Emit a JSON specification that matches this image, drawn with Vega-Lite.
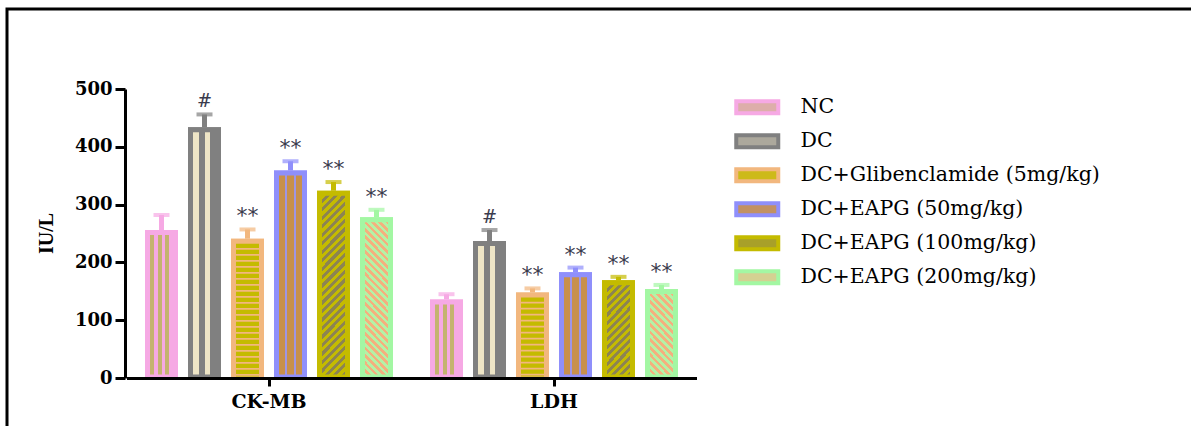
{
  "$schema": "https://vega.github.io/schema/vega-lite/v6.json",
  "width": 1184,
  "height": 417,
  "autosize": {"type": "none"},
  "padding": {"left": 7, "top": 9, "right": 0, "bottom": 0},
  "background": "white",
  "view": {"stroke": "black", "strokeWidth": 3, "strokeDash": [1184, 1601, 417, 0], "strokeDashOffset": 0, "strokeCap": "square"},
  "config": {
    "style": {"cell": {"strokeDash": [1184, 1601, 417, 0], "strokeDashOffset": 0}}
  },
  "data": {
    "values": [
      {"test": "CK-MB", "group": "NC", "mean": 256, "upper": 282, "sig": ""},
      {"test": "CK-MB", "group": "DC", "mean": 434, "upper": 456, "sig": "#"},
      {"test": "CK-MB", "group": "DC+Glibenclamide (5mg/kg)", "mean": 241, "upper": 257, "sig": "**"},
      {"test": "CK-MB", "group": "DC+EAPG (50mg/kg)", "mean": 359, "upper": 375, "sig": "**"},
      {"test": "CK-MB", "group": "DC+EAPG (100mg/kg)", "mean": 324, "upper": 339, "sig": "**"},
      {"test": "CK-MB", "group": "DC+EAPG (200mg/kg)", "mean": 278, "upper": 291, "sig": "**"},
      {"test": "LDH", "group": "NC", "mean": 136, "upper": 145, "sig": ""},
      {"test": "LDH", "group": "DC", "mean": 237, "upper": 256, "sig": "#"},
      {"test": "LDH", "group": "DC+Glibenclamide (5mg/kg)", "mean": 148, "upper": 155, "sig": "**"},
      {"test": "LDH", "group": "DC+EAPG (50mg/kg)", "mean": 183, "upper": 191, "sig": "**"},
      {"test": "LDH", "group": "DC+EAPG (100mg/kg)", "mean": 169, "upper": 175, "sig": "**"},
      {"test": "LDH", "group": "DC+EAPG (200mg/kg)", "mean": 154, "upper": 161, "sig": "**"}
    ]
  },
  "encoding": {
    "x": {
      "field": "test", "type": "nominal", "sort": ["CK-MB", "LDH"],
      "scale": {"range": [119.5, 689.5], "paddingInner": 0, "paddingOuter": 0},
      "axis": {
        "title": null, "orient": "bottom", "offset": -48, "zindex": 1,
        "domainColor": "black", "domainWidth": 3,
        "tickColor": "black", "tickWidth": 3, "tickSize": 8,
        "labelAngle": 0, "labelFont": "DejaVu Serif", "labelFontWeight": "bold", "labelFontSize": 19,
        "labelColor": "black", "labelPadding": 6
      }
    },
    "xOffset": {
      "field": "group", "type": "nominal",
      "sort": ["NC", "DC", "DC+Glibenclamide (5mg/kg)", "DC+EAPG (50mg/kg)", "DC+EAPG (100mg/kg)", "DC+EAPG (200mg/kg)"],
      "scale": {"paddingInner": 0.3488, "paddingOuter": 0.4884}
    },
    "y": {
      "field": "mean", "type": "quantitative",
      "scale": {"domain": [0, 500], "range": [369, 80], "nice": false},
      "axis": {
        "title": "IU/L", "orient": "left", "offset": -118, "zindex": 1, "grid": false,
        "values": [0, 100, 200, 300, 400, 500],
        "domainColor": "black", "domainWidth": 3,
        "tickColor": "black", "tickWidth": 3, "tickSize": 10,
        "labelFont": "DejaVu Serif", "labelFontWeight": "bold", "labelFontSize": 18,
        "labelColor": "black", "labelPadding": 3,
        "titleFont": "Liberation Serif", "titleFontWeight": "bold", "titleFontSize": 20, "titleColor": "black",
        "titleX": -79, "titleY": 224, "titleAngle": -90, "titleAlign": "center", "titleBaseline": "middle"
      }
    }
  },
  "layer": [
    {
      "mark": {"type": "rule", "strokeWidth": 5},
      "encoding": {
        "y2": {"field": "upper"},
        "color": {
          "condition": [
            {"test": "datum.group === 'NC'", "value": "#f6a9e4"},
            {"test": "datum.group === 'DC'", "value": "#808080"},
            {"test": "datum.group === 'DC+Glibenclamide (5mg/kg)'", "value": "#f2b77e"},
            {"test": "datum.group === 'DC+EAPG (50mg/kg)'", "value": "#8f8ffb"},
            {"test": "datum.group === 'DC+EAPG (100mg/kg)'", "value": "#c4bb00"}
          ],
          "value": "#a3f7a3"
        }
      }
    },
    {
      "mark": {"type": "tick", "thickness": 4, "size": 16},
      "encoding": {
        "y": {
          "field": "upper", "type": "quantitative",
          "scale": {"domain": [0, 500], "range": [369, 80], "nice": false},
          "axis": {
            "title": "IU/L", "orient": "left", "offset": -118, "zindex": 1, "grid": false,
            "values": [0, 100, 200, 300, 400, 500],
            "domainColor": "black", "domainWidth": 3,
            "tickColor": "black", "tickWidth": 3, "tickSize": 10,
            "labelFont": "DejaVu Serif", "labelFontWeight": "bold", "labelFontSize": 18,
            "labelColor": "black", "labelPadding": 3,
            "titleFont": "Liberation Serif", "titleFontWeight": "bold", "titleFontSize": 20, "titleColor": "black",
            "titleX": -79, "titleY": 224, "titleAngle": -90, "titleAlign": "center", "titleBaseline": "middle"
          }
        },
        "color": {
          "condition": [
            {"test": "datum.group === 'NC'", "value": "#f6a9e4"},
            {"test": "datum.group === 'DC'", "value": "#808080"},
            {"test": "datum.group === 'DC+Glibenclamide (5mg/kg)'", "value": "#f2b77e"},
            {"test": "datum.group === 'DC+EAPG (50mg/kg)'", "value": "#8f8ffb"},
            {"test": "datum.group === 'DC+EAPG (100mg/kg)'", "value": "#c4bb00"}
          ],
          "value": "#a3f7a3"
        }
      }
    },
    {
      "mark": {"type": "bar", "strokeWidth": 5, "yOffset": 2.5, "y2Offset": -1},
      "encoding": {
        "y2": {"datum": 0},
        "fill": {
          "field": "group", "type": "nominal",
          "legend": {
            "title": null, "orient": "none", "legendX": 740, "legendY": 88, "direction": "vertical", "padding": 0,
            "symbolType": "M-4.2,-1.2H4.2V1.2H-4.2Z", "symbolSize": 100, "symbolStrokeWidth": 4,
            "labelFont": "DejaVu Serif", "labelFontSize": 20.5, "labelColor": "black", "labelOffset": 33,
            "labelLimit": 400, "rowPadding": 5
          },
          "scale": {
            "domain": ["NC", "DC", "DC+Glibenclamide (5mg/kg)", "DC+EAPG (50mg/kg)", "DC+EAPG (100mg/kg)", "DC+EAPG (200mg/kg)"],
            "range": ["#ddaeaa", "#aca89c", "#cdba19", "#c29163", "#a8a029", "#d4d192"]
          }
        },
        "stroke": {
          "field": "group", "type": "nominal",
          "legend": {
            "title": null, "orient": "none", "legendX": 740, "legendY": 88, "direction": "vertical", "padding": 0,
            "symbolType": "M-4.2,-1.2H4.2V1.2H-4.2Z", "symbolSize": 100, "symbolStrokeWidth": 4,
            "labelFont": "DejaVu Serif", "labelFontSize": 20.5, "labelColor": "black", "labelOffset": 33,
            "labelLimit": 400, "rowPadding": 5
          },
          "scale": {
            "domain": ["NC", "DC", "DC+Glibenclamide (5mg/kg)", "DC+EAPG (50mg/kg)", "DC+EAPG (100mg/kg)", "DC+EAPG (200mg/kg)"],
            "range": ["#f6a9e4", "#808080", "#f2b77e", "#8f8ffb", "#c4bb00", "#a3f7a3"]
          }
        }
      }
    },
    {
      "mark": {"type": "bar", "strokeWidth": 5, "yOffset": 2.5, "y2Offset": -1},
      "encoding": {
        "y2": {"datum": 0},
        "stroke": {
          "condition": [
            {"test": "datum.group === 'NC'", "value": "#f6a9e4"},
            {"test": "datum.group === 'DC'", "value": "#808080"},
            {"test": "datum.group === 'DC+Glibenclamide (5mg/kg)'", "value": "#f2b77e"},
            {"test": "datum.group === 'DC+EAPG (50mg/kg)'", "value": "#8f8ffb"},
            {"test": "datum.group === 'DC+EAPG (100mg/kg)'", "value": "#c4bb00"}
          ],
          "value": "#a3f7a3"
        },
        "fill": {
          "condition": [
            {"test": "datum.group === 'NC'", "value": {"gradient": "linear", "x1": 0, "y1": 0, "x2": 1, "y2": 0, "stops": [
              {"offset": 0, "color": "#c4b36f"}, {"offset": 0.2262, "color": "#c4b36f"}, {"offset": 0.2262, "color": "#f6a9e4"}, {"offset": 0.3631, "color": "#f6a9e4"},
              {"offset": 0.3631, "color": "#c4b36f"}, {"offset": 0.5, "color": "#c4b36f"}, {"offset": 0.5, "color": "#f6a9e4"}, {"offset": 0.6369, "color": "#f6a9e4"},
              {"offset": 0.6369, "color": "#c4b36f"}, {"offset": 0.7738, "color": "#c4b36f"}, {"offset": 0.7738, "color": "#f6a9e4"}, {"offset": 1, "color": "#f6a9e4"}
            ]}},
            {"test": "datum.group === 'DC'", "value": {"gradient": "linear", "x1": 0, "y1": 0, "x2": 1, "y2": 0, "stops": [
              {"offset": 0, "color": "#eee5c6"}, {"offset": 0.2946, "color": "#eee5c6"}, {"offset": 0.2946, "color": "#808080"}, {"offset": 0.5, "color": "#808080"},
              {"offset": 0.5, "color": "#eee5c6"}, {"offset": 0.7054, "color": "#eee5c6"}, {"offset": 0.7054, "color": "#808080"}, {"offset": 1, "color": "#808080"}
            ]}},
            {"test": "datum.group === 'DC+Glibenclamide (5mg/kg)'", "value": "#f2b77e"},
            {"test": "datum.group === 'DC+EAPG (50mg/kg)'", "value": {"gradient": "linear", "x1": 0, "y1": 0, "x2": 1, "y2": 0, "stops": [
              {"offset": 0, "color": "#c8904c"}, {"offset": 0.3, "color": "#c8904c"}, {"offset": 0.3, "color": "#9f95e6"}, {"offset": 0.3714, "color": "#9f95e6"},
              {"offset": 0.3714, "color": "#c8904c"}, {"offset": 0.6286, "color": "#c8904c"}, {"offset": 0.6286, "color": "#9f95e6"}, {"offset": 0.7, "color": "#9f95e6"},
              {"offset": 0.7, "color": "#c8904c"}, {"offset": 1, "color": "#c8904c"}
            ]}},
            {"test": "datum.group === 'DC+EAPG (100mg/kg)' && datum.test === 'CK-MB'", "value": {"gradient": "linear", "x1": 0, "y1": 0, "x2": 0.1731, "y2": 1.127, "stops": [
              {"offset": 0, "color": "#8d8452"}, {"offset": 0.02, "color": "#8d8452"}, {"offset": 0.02, "color": "#c4bb00"}, {"offset": 0.04, "color": "#c4bb00"},
              {"offset": 0.04, "color": "#8d8452"}, {"offset": 0.06, "color": "#8d8452"}, {"offset": 0.06, "color": "#c4bb00"}, {"offset": 0.08, "color": "#c4bb00"},
              {"offset": 0.08, "color": "#8d8452"}, {"offset": 0.1, "color": "#8d8452"}, {"offset": 0.1, "color": "#c4bb00"}, {"offset": 0.12, "color": "#c4bb00"},
              {"offset": 0.12, "color": "#8d8452"}, {"offset": 0.14, "color": "#8d8452"}, {"offset": 0.14, "color": "#c4bb00"}, {"offset": 0.16, "color": "#c4bb00"},
              {"offset": 0.16, "color": "#8d8452"}, {"offset": 0.18, "color": "#8d8452"}, {"offset": 0.18, "color": "#c4bb00"}, {"offset": 0.2, "color": "#c4bb00"},
              {"offset": 0.2, "color": "#8d8452"}, {"offset": 0.22, "color": "#8d8452"}, {"offset": 0.22, "color": "#c4bb00"}, {"offset": 0.24, "color": "#c4bb00"},
              {"offset": 0.24, "color": "#8d8452"}, {"offset": 0.26, "color": "#8d8452"}, {"offset": 0.26, "color": "#c4bb00"}, {"offset": 0.28, "color": "#c4bb00"},
              {"offset": 0.28, "color": "#8d8452"}, {"offset": 0.3, "color": "#8d8452"}, {"offset": 0.3, "color": "#c4bb00"}, {"offset": 0.32, "color": "#c4bb00"},
              {"offset": 0.32, "color": "#8d8452"}, {"offset": 0.34, "color": "#8d8452"}, {"offset": 0.34, "color": "#c4bb00"}, {"offset": 0.36, "color": "#c4bb00"},
              {"offset": 0.36, "color": "#8d8452"}, {"offset": 0.38, "color": "#8d8452"}, {"offset": 0.38, "color": "#c4bb00"}, {"offset": 0.4, "color": "#c4bb00"},
              {"offset": 0.4, "color": "#8d8452"}, {"offset": 0.42, "color": "#8d8452"}, {"offset": 0.42, "color": "#c4bb00"}, {"offset": 0.44, "color": "#c4bb00"},
              {"offset": 0.44, "color": "#8d8452"}, {"offset": 0.46, "color": "#8d8452"}, {"offset": 0.46, "color": "#c4bb00"}, {"offset": 0.48, "color": "#c4bb00"},
              {"offset": 0.48, "color": "#8d8452"}, {"offset": 0.5, "color": "#8d8452"}, {"offset": 0.5, "color": "#c4bb00"}, {"offset": 0.52, "color": "#c4bb00"},
              {"offset": 0.52, "color": "#8d8452"}, {"offset": 0.54, "color": "#8d8452"}, {"offset": 0.54, "color": "#c4bb00"}, {"offset": 0.56, "color": "#c4bb00"},
              {"offset": 0.56, "color": "#8d8452"}, {"offset": 0.58, "color": "#8d8452"}, {"offset": 0.58, "color": "#c4bb00"}, {"offset": 0.6, "color": "#c4bb00"},
              {"offset": 0.6, "color": "#8d8452"}, {"offset": 0.62, "color": "#8d8452"}, {"offset": 0.62, "color": "#c4bb00"}, {"offset": 0.64, "color": "#c4bb00"},
              {"offset": 0.64, "color": "#8d8452"}, {"offset": 0.66, "color": "#8d8452"}, {"offset": 0.66, "color": "#c4bb00"}, {"offset": 0.68, "color": "#c4bb00"},
              {"offset": 0.68, "color": "#8d8452"}, {"offset": 0.7, "color": "#8d8452"}, {"offset": 0.7, "color": "#c4bb00"}, {"offset": 0.72, "color": "#c4bb00"},
              {"offset": 0.72, "color": "#8d8452"}, {"offset": 0.74, "color": "#8d8452"}, {"offset": 0.74, "color": "#c4bb00"}, {"offset": 0.76, "color": "#c4bb00"},
              {"offset": 0.76, "color": "#8d8452"}, {"offset": 0.78, "color": "#8d8452"}, {"offset": 0.78, "color": "#c4bb00"}, {"offset": 0.8, "color": "#c4bb00"},
              {"offset": 0.8, "color": "#8d8452"}, {"offset": 0.82, "color": "#8d8452"}, {"offset": 0.82, "color": "#c4bb00"}, {"offset": 0.84, "color": "#c4bb00"},
              {"offset": 0.84, "color": "#8d8452"}, {"offset": 0.86, "color": "#8d8452"}, {"offset": 0.86, "color": "#c4bb00"}, {"offset": 0.88, "color": "#c4bb00"},
              {"offset": 0.88, "color": "#8d8452"}, {"offset": 0.9, "color": "#8d8452"}, {"offset": 0.9, "color": "#c4bb00"}, {"offset": 0.92, "color": "#c4bb00"},
              {"offset": 0.92, "color": "#8d8452"}, {"offset": 0.94, "color": "#8d8452"}, {"offset": 0.94, "color": "#c4bb00"}, {"offset": 0.96, "color": "#c4bb00"},
              {"offset": 0.96, "color": "#8d8452"}, {"offset": 0.98, "color": "#8d8452"}, {"offset": 0.98, "color": "#c4bb00"}, {"offset": 1, "color": "#c4bb00"}
            ]}},
            {"test": "datum.group === 'DC+EAPG (100mg/kg)'", "value": {"gradient": "linear", "x1": 0, "y1": 0, "x2": 0.3605, "y2": 1.1932, "stops": [
              {"offset": 0, "color": "#8d8452"}, {"offset": 0.0333, "color": "#8d8452"}, {"offset": 0.0333, "color": "#c4bb00"}, {"offset": 0.0667, "color": "#c4bb00"},
              {"offset": 0.0667, "color": "#8d8452"}, {"offset": 0.1, "color": "#8d8452"}, {"offset": 0.1, "color": "#c4bb00"}, {"offset": 0.1333, "color": "#c4bb00"},
              {"offset": 0.1333, "color": "#8d8452"}, {"offset": 0.1667, "color": "#8d8452"}, {"offset": 0.1667, "color": "#c4bb00"}, {"offset": 0.2, "color": "#c4bb00"},
              {"offset": 0.2, "color": "#8d8452"}, {"offset": 0.2333, "color": "#8d8452"}, {"offset": 0.2333, "color": "#c4bb00"}, {"offset": 0.2667, "color": "#c4bb00"},
              {"offset": 0.2667, "color": "#8d8452"}, {"offset": 0.3, "color": "#8d8452"}, {"offset": 0.3, "color": "#c4bb00"}, {"offset": 0.3333, "color": "#c4bb00"},
              {"offset": 0.3333, "color": "#8d8452"}, {"offset": 0.3667, "color": "#8d8452"}, {"offset": 0.3667, "color": "#c4bb00"}, {"offset": 0.4, "color": "#c4bb00"},
              {"offset": 0.4, "color": "#8d8452"}, {"offset": 0.4333, "color": "#8d8452"}, {"offset": 0.4333, "color": "#c4bb00"}, {"offset": 0.4667, "color": "#c4bb00"},
              {"offset": 0.4667, "color": "#8d8452"}, {"offset": 0.5, "color": "#8d8452"}, {"offset": 0.5, "color": "#c4bb00"}, {"offset": 0.5333, "color": "#c4bb00"},
              {"offset": 0.5333, "color": "#8d8452"}, {"offset": 0.5667, "color": "#8d8452"}, {"offset": 0.5667, "color": "#c4bb00"}, {"offset": 0.6, "color": "#c4bb00"},
              {"offset": 0.6, "color": "#8d8452"}, {"offset": 0.6333, "color": "#8d8452"}, {"offset": 0.6333, "color": "#c4bb00"}, {"offset": 0.6667, "color": "#c4bb00"},
              {"offset": 0.6667, "color": "#8d8452"}, {"offset": 0.7, "color": "#8d8452"}, {"offset": 0.7, "color": "#c4bb00"}, {"offset": 0.7333, "color": "#c4bb00"},
              {"offset": 0.7333, "color": "#8d8452"}, {"offset": 0.7667, "color": "#8d8452"}, {"offset": 0.7667, "color": "#c4bb00"}, {"offset": 0.8, "color": "#c4bb00"},
              {"offset": 0.8, "color": "#8d8452"}, {"offset": 0.8333, "color": "#8d8452"}, {"offset": 0.8333, "color": "#c4bb00"}, {"offset": 0.8667, "color": "#c4bb00"},
              {"offset": 0.8667, "color": "#8d8452"}, {"offset": 0.9, "color": "#8d8452"}, {"offset": 0.9, "color": "#c4bb00"}, {"offset": 0.9333, "color": "#c4bb00"},
              {"offset": 0.9333, "color": "#8d8452"}, {"offset": 0.9667, "color": "#8d8452"}, {"offset": 0.9667, "color": "#c4bb00"}, {"offset": 1, "color": "#c4bb00"}
            ]}},
            {"test": "datum.test === 'CK-MB'", "value": {"gradient": "linear", "x1": 0, "y1": 1, "x2": 0.2056, "y2": -0.1429, "stops": [
              {"offset": 0, "color": "#f4b07e"}, {"offset": 0.02, "color": "#f4b07e"}, {"offset": 0.02, "color": "#b4f2a6"}, {"offset": 0.04, "color": "#b4f2a6"},
              {"offset": 0.04, "color": "#f4b07e"}, {"offset": 0.06, "color": "#f4b07e"}, {"offset": 0.06, "color": "#b4f2a6"}, {"offset": 0.08, "color": "#b4f2a6"},
              {"offset": 0.08, "color": "#f4b07e"}, {"offset": 0.1, "color": "#f4b07e"}, {"offset": 0.1, "color": "#b4f2a6"}, {"offset": 0.12, "color": "#b4f2a6"},
              {"offset": 0.12, "color": "#f4b07e"}, {"offset": 0.14, "color": "#f4b07e"}, {"offset": 0.14, "color": "#b4f2a6"}, {"offset": 0.16, "color": "#b4f2a6"},
              {"offset": 0.16, "color": "#f4b07e"}, {"offset": 0.18, "color": "#f4b07e"}, {"offset": 0.18, "color": "#b4f2a6"}, {"offset": 0.2, "color": "#b4f2a6"},
              {"offset": 0.2, "color": "#f4b07e"}, {"offset": 0.22, "color": "#f4b07e"}, {"offset": 0.22, "color": "#b4f2a6"}, {"offset": 0.24, "color": "#b4f2a6"},
              {"offset": 0.24, "color": "#f4b07e"}, {"offset": 0.26, "color": "#f4b07e"}, {"offset": 0.26, "color": "#b4f2a6"}, {"offset": 0.28, "color": "#b4f2a6"},
              {"offset": 0.28, "color": "#f4b07e"}, {"offset": 0.3, "color": "#f4b07e"}, {"offset": 0.3, "color": "#b4f2a6"}, {"offset": 0.32, "color": "#b4f2a6"},
              {"offset": 0.32, "color": "#f4b07e"}, {"offset": 0.34, "color": "#f4b07e"}, {"offset": 0.34, "color": "#b4f2a6"}, {"offset": 0.36, "color": "#b4f2a6"},
              {"offset": 0.36, "color": "#f4b07e"}, {"offset": 0.38, "color": "#f4b07e"}, {"offset": 0.38, "color": "#b4f2a6"}, {"offset": 0.4, "color": "#b4f2a6"},
              {"offset": 0.4, "color": "#f4b07e"}, {"offset": 0.42, "color": "#f4b07e"}, {"offset": 0.42, "color": "#b4f2a6"}, {"offset": 0.44, "color": "#b4f2a6"},
              {"offset": 0.44, "color": "#f4b07e"}, {"offset": 0.46, "color": "#f4b07e"}, {"offset": 0.46, "color": "#b4f2a6"}, {"offset": 0.48, "color": "#b4f2a6"},
              {"offset": 0.48, "color": "#f4b07e"}, {"offset": 0.5, "color": "#f4b07e"}, {"offset": 0.5, "color": "#b4f2a6"}, {"offset": 0.52, "color": "#b4f2a6"},
              {"offset": 0.52, "color": "#f4b07e"}, {"offset": 0.54, "color": "#f4b07e"}, {"offset": 0.54, "color": "#b4f2a6"}, {"offset": 0.56, "color": "#b4f2a6"},
              {"offset": 0.56, "color": "#f4b07e"}, {"offset": 0.58, "color": "#f4b07e"}, {"offset": 0.58, "color": "#b4f2a6"}, {"offset": 0.6, "color": "#b4f2a6"},
              {"offset": 0.6, "color": "#f4b07e"}, {"offset": 0.62, "color": "#f4b07e"}, {"offset": 0.62, "color": "#b4f2a6"}, {"offset": 0.64, "color": "#b4f2a6"},
              {"offset": 0.64, "color": "#f4b07e"}, {"offset": 0.66, "color": "#f4b07e"}, {"offset": 0.66, "color": "#b4f2a6"}, {"offset": 0.68, "color": "#b4f2a6"},
              {"offset": 0.68, "color": "#f4b07e"}, {"offset": 0.7, "color": "#f4b07e"}, {"offset": 0.7, "color": "#b4f2a6"}, {"offset": 0.72, "color": "#b4f2a6"},
              {"offset": 0.72, "color": "#f4b07e"}, {"offset": 0.74, "color": "#f4b07e"}, {"offset": 0.74, "color": "#b4f2a6"}, {"offset": 0.76, "color": "#b4f2a6"},
              {"offset": 0.76, "color": "#f4b07e"}, {"offset": 0.78, "color": "#f4b07e"}, {"offset": 0.78, "color": "#b4f2a6"}, {"offset": 0.8, "color": "#b4f2a6"},
              {"offset": 0.8, "color": "#f4b07e"}, {"offset": 0.82, "color": "#f4b07e"}, {"offset": 0.82, "color": "#b4f2a6"}, {"offset": 0.84, "color": "#b4f2a6"},
              {"offset": 0.84, "color": "#f4b07e"}, {"offset": 0.86, "color": "#f4b07e"}, {"offset": 0.86, "color": "#b4f2a6"}, {"offset": 0.88, "color": "#b4f2a6"},
              {"offset": 0.88, "color": "#f4b07e"}, {"offset": 0.9, "color": "#f4b07e"}, {"offset": 0.9, "color": "#b4f2a6"}, {"offset": 0.92, "color": "#b4f2a6"},
              {"offset": 0.92, "color": "#f4b07e"}, {"offset": 0.94, "color": "#f4b07e"}, {"offset": 0.94, "color": "#b4f2a6"}, {"offset": 0.96, "color": "#b4f2a6"},
              {"offset": 0.96, "color": "#f4b07e"}, {"offset": 0.98, "color": "#f4b07e"}, {"offset": 0.98, "color": "#b4f2a6"}, {"offset": 1, "color": "#b4f2a6"}
            ]}}
          ],
          "value": {"gradient": "linear", "x1": 0, "y1": 1, "x2": 0.4, "y2": -0.2, "stops": [
            {"offset": 0, "color": "#f4b07e"}, {"offset": 0.0333, "color": "#f4b07e"}, {"offset": 0.0333, "color": "#b4f2a6"}, {"offset": 0.0667, "color": "#b4f2a6"},
            {"offset": 0.0667, "color": "#f4b07e"}, {"offset": 0.1, "color": "#f4b07e"}, {"offset": 0.1, "color": "#b4f2a6"}, {"offset": 0.1333, "color": "#b4f2a6"},
            {"offset": 0.1333, "color": "#f4b07e"}, {"offset": 0.1667, "color": "#f4b07e"}, {"offset": 0.1667, "color": "#b4f2a6"}, {"offset": 0.2, "color": "#b4f2a6"},
            {"offset": 0.2, "color": "#f4b07e"}, {"offset": 0.2333, "color": "#f4b07e"}, {"offset": 0.2333, "color": "#b4f2a6"}, {"offset": 0.2667, "color": "#b4f2a6"},
            {"offset": 0.2667, "color": "#f4b07e"}, {"offset": 0.3, "color": "#f4b07e"}, {"offset": 0.3, "color": "#b4f2a6"}, {"offset": 0.3333, "color": "#b4f2a6"},
            {"offset": 0.3333, "color": "#f4b07e"}, {"offset": 0.3667, "color": "#f4b07e"}, {"offset": 0.3667, "color": "#b4f2a6"}, {"offset": 0.4, "color": "#b4f2a6"},
            {"offset": 0.4, "color": "#f4b07e"}, {"offset": 0.4333, "color": "#f4b07e"}, {"offset": 0.4333, "color": "#b4f2a6"}, {"offset": 0.4667, "color": "#b4f2a6"},
            {"offset": 0.4667, "color": "#f4b07e"}, {"offset": 0.5, "color": "#f4b07e"}, {"offset": 0.5, "color": "#b4f2a6"}, {"offset": 0.5333, "color": "#b4f2a6"},
            {"offset": 0.5333, "color": "#f4b07e"}, {"offset": 0.5667, "color": "#f4b07e"}, {"offset": 0.5667, "color": "#b4f2a6"}, {"offset": 0.6, "color": "#b4f2a6"},
            {"offset": 0.6, "color": "#f4b07e"}, {"offset": 0.6333, "color": "#f4b07e"}, {"offset": 0.6333, "color": "#b4f2a6"}, {"offset": 0.6667, "color": "#b4f2a6"},
            {"offset": 0.6667, "color": "#f4b07e"}, {"offset": 0.7, "color": "#f4b07e"}, {"offset": 0.7, "color": "#b4f2a6"}, {"offset": 0.7333, "color": "#b4f2a6"},
            {"offset": 0.7333, "color": "#f4b07e"}, {"offset": 0.7667, "color": "#f4b07e"}, {"offset": 0.7667, "color": "#b4f2a6"}, {"offset": 0.8, "color": "#b4f2a6"},
            {"offset": 0.8, "color": "#f4b07e"}, {"offset": 0.8333, "color": "#f4b07e"}, {"offset": 0.8333, "color": "#b4f2a6"}, {"offset": 0.8667, "color": "#b4f2a6"},
            {"offset": 0.8667, "color": "#f4b07e"}, {"offset": 0.9, "color": "#f4b07e"}, {"offset": 0.9, "color": "#b4f2a6"}, {"offset": 0.9333, "color": "#b4f2a6"},
            {"offset": 0.9333, "color": "#f4b07e"}, {"offset": 0.9667, "color": "#f4b07e"}, {"offset": 0.9667, "color": "#b4f2a6"}, {"offset": 1, "color": "#b4f2a6"}
          ]}
        }
      }
    },
    {
      "transform": [{"filter": "datum.group === 'DC+Glibenclamide (5mg/kg)'"}],
      "mark": {"type": "rule", "strokeWidth": 23, "strokeDash": [4.3, 1.7], "color": "#c4bb00", "yOffset": 5, "y2Offset": -1.5},
      "encoding": {"y2": {"datum": 0}}
    },
    {
      "transform": [{"filter": "datum.sig === '#'"}],
      "mark": {"type": "text", "font": "DejaVu Serif", "fontSize": 18, "color": "#3b3b4d", "baseline": "alphabetic", "dy": -7},
      "encoding": {
        "y": {
          "field": "upper", "type": "quantitative",
          "scale": {"domain": [0, 500], "range": [369, 80], "nice": false},
          "axis": {
            "title": "IU/L", "orient": "left", "offset": -118, "zindex": 1, "grid": false,
            "values": [0, 100, 200, 300, 400, 500],
            "domainColor": "black", "domainWidth": 3,
            "tickColor": "black", "tickWidth": 3, "tickSize": 10,
            "labelFont": "DejaVu Serif", "labelFontWeight": "bold", "labelFontSize": 18,
            "labelColor": "black", "labelPadding": 3,
            "titleFont": "Liberation Serif", "titleFontWeight": "bold", "titleFontSize": 20, "titleColor": "black",
            "titleX": -79, "titleY": 224, "titleAngle": -90, "titleAlign": "center", "titleBaseline": "middle"
          }
        },
        "text": {"field": "sig"}
      }
    },
    {
      "transform": [{"filter": "datum.sig === '**'"}],
      "mark": {"type": "text", "font": "DejaVu Sans", "fontSize": 22, "color": "#3b3b4d", "baseline": "alphabetic", "dy": -6},
      "encoding": {
        "y": {
          "field": "upper", "type": "quantitative",
          "scale": {"domain": [0, 500], "range": [369, 80], "nice": false},
          "axis": {
            "title": "IU/L", "orient": "left", "offset": -118, "zindex": 1, "grid": false,
            "values": [0, 100, 200, 300, 400, 500],
            "domainColor": "black", "domainWidth": 3,
            "tickColor": "black", "tickWidth": 3, "tickSize": 10,
            "labelFont": "DejaVu Serif", "labelFontWeight": "bold", "labelFontSize": 18,
            "labelColor": "black", "labelPadding": 3,
            "titleFont": "Liberation Serif", "titleFontWeight": "bold", "titleFontSize": 20, "titleColor": "black",
            "titleX": -79, "titleY": 224, "titleAngle": -90, "titleAlign": "center", "titleBaseline": "middle"
          }
        },
        "text": {"field": "sig"}
      }
    }
  ]
}
